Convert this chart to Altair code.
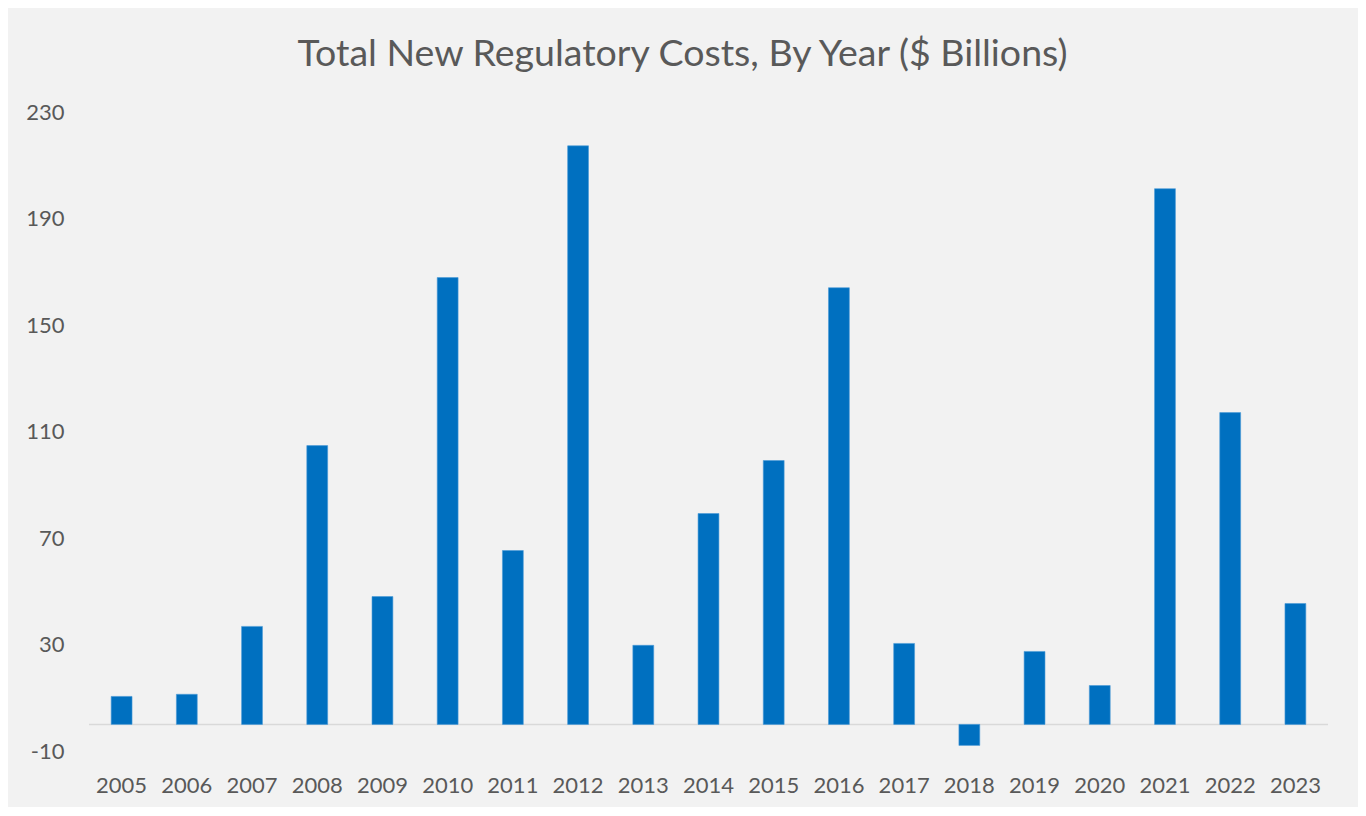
import altair as alt
import pandas as pd

years = [str(y) for y in range(2005, 2024)]
costs = [10.5, 11.3, 36.8, 104.7, 48.0, 167.8, 65.3, 217.3, 29.7, 79.2,
         99.1, 164.0, 30.4, -7.9, 27.4, 14.6, 201.2, 117.1, 45.4]
y_ticks = [-10, 30, 70, 110, 150, 190, 230]
title_text = "Total New Regulatory Costs, By Year ($ Billions)"

df = pd.DataFrame({"year": years, "cost": costs})
zero = pd.DataFrame({"v": [0]})

FONT = "Lato"
GREY = "#595959"

bars = alt.Chart(df).mark_bar(color="#0070c0", stroke="#4a9ad6", strokeWidth=0.6).encode(
    x=alt.X("year:N", sort=years, title=None,
            scale=alt.Scale(paddingInner=0.68, paddingOuter=0.34),
            axis=alt.Axis(labelAngle=0, ticks=False, domain=False, grid=False,
                          labelPadding=24, labelFont=FONT, labelFontSize=22,
                          labelColor=GREY)),
    y=alt.Y("cost:Q", title=None,
            scale=alt.Scale(domain=[-10, 230], nice=False, zero=False),
            axis=alt.Axis(values=y_ticks, ticks=False, domain=False, grid=False,
                          labelExpr="'' + datum.value",
                          labelPadding=25, labelFont=FONT, labelFontSize=22,
                          labelColor=GREY)),
)

rule = alt.Chart(zero).mark_rule(color="#d9d9d9", strokeWidth=1.5).encode(y="v:Q")

chart = alt.layer(rule, bars).properties(
    width=1239,
    height=639,
    autosize=alt.AutoSizeParams(type="none"),
    padding={"left": 81, "top": 104, "right": 30, "bottom": 56},
    background="#f2f2f2",
    title=alt.TitleParams(title_text, font=FONT, fontSize=37.5, fontWeight="normal",
                          color=GREY, anchor="middle", offset=28, dx=-26),
).configure_view(stroke=None)

chart.save("out.html", embed_options={"renderer": "svg", "actions": False})
